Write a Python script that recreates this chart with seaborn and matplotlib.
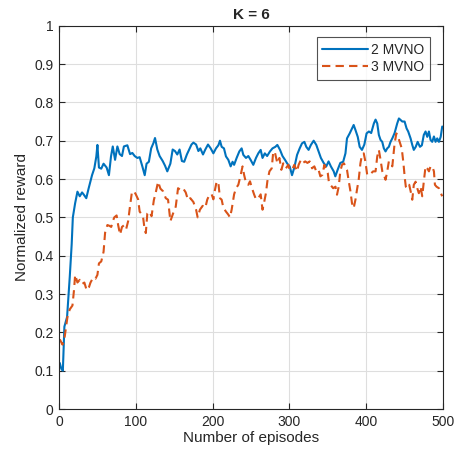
import numpy as np
import pandas as pd
import seaborn as sns
import matplotlib.pyplot as plt

# values (episode, normalized reward)
ep_2mvno = [1, 3, 5, 7, 10.5, 14, 16.5, 18, 21, 24, 27, 30, 32, 35.5, 38.5, 43, 46, 48.6, 50, 52,
            55, 58, 62, 65, 67.7, 70, 73, 76, 79, 82, 84.5, 89, 92.5, 95.5, 98.5, 102, 105, 108.5,
            111.6, 114, 117, 120, 123, 125, 128, 131, 135, 138, 141, 145, 148, 151, 154, 157, 160,
            163, 166.5, 169.5, 172.5, 175, 178.5, 181.5, 184, 187.5, 190.5, 194, 197.5, 201, 204.4,
            207.5, 209.6, 211.8, 214.8, 217.4, 220.5, 223.5, 226, 228, 231.3, 234.8, 237.8, 240,
            243.5, 246.5, 249.5, 253, 256.5, 259.5, 262.6, 265, 268, 271, 274.7, 278, 281.7, 284.3,
            287.8, 291, 294.3, 297.3, 300.4, 303.4, 306.4, 310, 313.4, 316.4, 319.5, 322, 325, 328,
            331.6, 335, 338, 341, 344.6, 348, 351, 354, 357.7, 359.8, 363, 366.3, 370, 373, 375,
            378.5, 381.5, 383.7, 386, 389, 391.5, 394.5, 397.6, 400.5, 403.5, 406.5, 410, 412.2,
            414.4, 416.5, 418.7, 420.9, 423, 425.2, 427.4, 429.5, 431.7, 434, 437, 440.4, 442.6,
            444.7, 447, 450, 452.6, 454.7, 457.8, 460, 462, 464.5, 467, 470, 472.5, 475, 477.3,
            479.5, 481.7, 483.8, 486, 488.2, 490.3, 492.5, 494.7, 497, 499]
reward_2mvno = [0.12, 0.105, 0.10, 0.215, 0.24, 0.345, 0.43, 0.50, 0.537, 0.567, 0.555, 0.565, 0.56,
                0.55, 0.575, 0.61, 0.628, 0.659, 0.689, 0.63, 0.627, 0.64, 0.63, 0.61, 0.659, 0.685,
                0.65, 0.685, 0.665, 0.66, 0.685, 0.688, 0.665, 0.668, 0.66, 0.655, 0.657, 0.633,
                0.61, 0.64, 0.645, 0.68, 0.694, 0.707, 0.677, 0.66, 0.647, 0.635, 0.62, 0.64, 0.677,
                0.673, 0.664, 0.677, 0.647, 0.645, 0.664, 0.677, 0.69, 0.695, 0.69, 0.673, 0.68,
                0.664, 0.677, 0.69, 0.68, 0.667, 0.68, 0.688, 0.70, 0.684, 0.68, 0.659, 0.65, 0.633,
                0.645, 0.637, 0.655, 0.672, 0.68, 0.663, 0.655, 0.66, 0.65, 0.637, 0.655, 0.667,
                0.676, 0.655, 0.667, 0.66, 0.672, 0.68, 0.684, 0.689, 0.676, 0.66, 0.65, 0.64,
                0.633, 0.61, 0.63, 0.663, 0.68, 0.693, 0.697, 0.684, 0.676, 0.689, 0.70, 0.689,
                0.672, 0.655, 0.642, 0.633, 0.646, 0.633, 0.62, 0.607, 0.625, 0.642, 0.645, 0.667,
                0.706, 0.719, 0.732, 0.741, 0.728, 0.71, 0.684, 0.676, 0.69, 0.719, 0.724, 0.72,
                0.745, 0.755, 0.745, 0.715, 0.702, 0.697, 0.68, 0.672, 0.68, 0.684, 0.697, 0.706,
                0.72, 0.745, 0.758, 0.754, 0.75, 0.75, 0.732, 0.724, 0.706, 0.689, 0.676, 0.684,
                0.697, 0.684, 0.688, 0.715, 0.724, 0.71, 0.724, 0.702, 0.697, 0.711, 0.697, 0.706,
                0.697, 0.71, 0.737]

ep_3mvno = [0, 1.5, 4.5, 7.5, 11, 14, 17.5, 19.5, 21, 24, 27, 30, 33, 36, 39, 41, 44.5, 47.5, 50,
            52, 55, 58, 60, 63, 65.5, 68, 70, 72, 75, 77, 79.5, 82, 85, 87.5, 90, 92.5, 95, 98, 100,
            103, 105, 107, 109.5, 111, 113, 115, 117.5, 120.5, 123.5, 126, 129, 132, 135.5, 139,
            142, 145, 148.5, 152, 155, 158, 161.5, 165, 168, 171, 175, 178.5, 180.5, 183.5, 187,
            190.5, 193, 196, 198.8, 201, 202.7, 205.3, 207.5, 209.6, 211.8, 214, 217.4, 220.5,
            222.6, 224.8, 228, 230.5, 233.5, 236.6, 239, 241, 243.5, 246.5, 248.7, 251.3, 254,
            256.5, 259.5, 262.6, 265, 267, 269.5, 271.3, 274, 277, 279, 281.3, 284.3, 287, 289.5,
            292, 295.5, 298.6, 300.4, 303.4, 306.4, 310, 312, 315, 317.6, 320.6, 323.5, 326.4,
            329.5, 332.5, 335, 338, 340.3, 343, 345.5, 348, 350, 351.3, 353.4, 357, 360, 362, 364.2,
            366.3, 368.5, 371, 373, 375, 377.3, 379.5, 381.5, 383.7, 386, 388, 390.2, 392.5, 394.5,
            396.8, 399, 401.3, 404, 406.5, 409, 412.2, 414.4, 416.5, 418.7, 421, 423, 425.2, 427.4,
            429.5, 432, 434, 437, 439.3, 441.5, 444.2, 446.3, 448.5, 450.3, 451.6, 453.8, 456, 458,
            460, 462, 464.3, 466.5, 468.6, 470.8, 473, 475, 477.3, 479.5, 481.7, 483.8, 486, 488.2,
            489.5, 491.6, 494.7, 497, 499]
reward_3mvno = [0.18, 0.18, 0.168, 0.19, 0.24, 0.26, 0.27, 0.31, 0.35, 0.33, 0.337, 0.326, 0.33,
                0.31, 0.318, 0.33, 0.343, 0.34, 0.35, 0.38, 0.385, 0.41, 0.46, 0.48, 0.478, 0.475,
                0.49, 0.50, 0.505, 0.48, 0.455, 0.475, 0.48, 0.47, 0.49, 0.53, 0.567, 0.567, 0.56,
                0.547, 0.515, 0.51, 0.50, 0.476, 0.459, 0.51, 0.515, 0.503, 0.545, 0.565, 0.593,
                0.575, 0.568, 0.55, 0.546, 0.49, 0.51, 0.528, 0.576, 0.572, 0.576, 0.565, 0.545,
                0.55, 0.54, 0.52, 0.50, 0.52, 0.53, 0.525, 0.546, 0.56, 0.56, 0.547, 0.568, 0.594,
                0.59, 0.55, 0.546, 0.525, 0.515, 0.507, 0.50, 0.52, 0.56, 0.576, 0.585, 0.611,
                0.633, 0.611, 0.59, 0.585, 0.594, 0.576, 0.56, 0.547, 0.55, 0.56, 0.52, 0.538,
                0.564, 0.594, 0.62, 0.628, 0.672, 0.668, 0.641, 0.655, 0.624, 0.641, 0.628, 0.637,
                0.624, 0.624, 0.637, 0.62, 0.637, 0.65, 0.642, 0.646, 0.642, 0.646, 0.628, 0.633,
                0.62, 0.624, 0.607, 0.611, 0.637, 0.624, 0.615, 0.594, 0.585, 0.576, 0.58, 0.559,
                0.58, 0.62, 0.637, 0.641, 0.633, 0.624, 0.594, 0.568, 0.537, 0.524, 0.546, 0.572,
                0.598, 0.641, 0.663, 0.667, 0.645, 0.611, 0.615, 0.615, 0.62, 0.62, 0.659, 0.676,
                0.65, 0.62, 0.611, 0.598, 0.62, 0.646, 0.642, 0.633, 0.693, 0.719, 0.71, 0.693,
                0.68, 0.641, 0.602, 0.58, 0.576, 0.585, 0.567, 0.546, 0.585, 0.593, 0.576, 0.563,
                0.58, 0.555, 0.593, 0.633, 0.628, 0.62, 0.633, 0.633, 0.62, 0.585, 0.58, 0.576,
                0.564, 0.555]

x_ticks = [0, 100, 200, 300, 400, 500]
y_ticks = [0, 0.1, 0.2, 0.3, 0.4, 0.5, 0.6, 0.7, 0.8, 0.9, 1]
y_tick_labels = ["0", "0.1", "0.2", "0.3", "0.4", "0.5", "0.6", "0.7", "0.8", "0.9", "1"]

sns.set_theme(style="ticks")
plt.rcParams['font.family'] = ['Liberation Sans', 'DejaVu Sans']

df = pd.concat([
    pd.DataFrame({"episode": ep_2mvno, "reward": reward_2mvno, "series": "2 MVNO"}),
    pd.DataFrame({"episode": ep_3mvno, "reward": reward_3mvno, "series": "3 MVNO"}),
])

fig = plt.figure(figsize=(4.55, 4.63), dpi=100)
ax = fig.add_axes([0.1297, 0.1166, 0.8439, 0.8279])

sns.lineplot(data=df, x="episode", y="reward", hue="series", style="series",
             palette={"2 MVNO": "#0072BD", "3 MVNO": "#D95319"},
             dashes={"2 MVNO": "", "3 MVNO": (4, 2.5)},
             linewidth=1.5, ax=ax, estimator=None, sort=False)

ax.set_xlim(0, 500)
ax.set_ylim(0, 1)
ax.set_xticks(x_ticks)
ax.set_yticks(y_ticks)
ax.set_yticklabels(y_tick_labels)
ax.grid(True, color="#dedede", linewidth=0.8)
ax.set_axisbelow(True)
ax.tick_params(direction="in", top=True, right=True, length=4, width=0.8,
               labelsize=10, colors="#262626", pad=4)
for s in ax.spines.values():
    s.set_color("#262626")
    s.set_linewidth(0.8)

ax.set_xlabel("Number of episodes", fontsize=11, color="#262626", labelpad=2)
ax.set_ylabel("Normalized reward", fontsize=11, color="#262626", labelpad=4)
ax.set_title("K = 6", fontsize=11, fontweight="bold", pad=5)

leg = ax.legend(loc="upper right", bbox_to_anchor=(0.965, 0.97), fontsize=10,
                handlelength=3.3, frameon=True, fancybox=False, borderpad=0.4,
                labelspacing=0.25, handletextpad=0.2, borderaxespad=0)
leg.get_frame().set_edgecolor("#262626")
leg.get_frame().set_linewidth(0.8)

fig.savefig("out.png", dpi=100)
